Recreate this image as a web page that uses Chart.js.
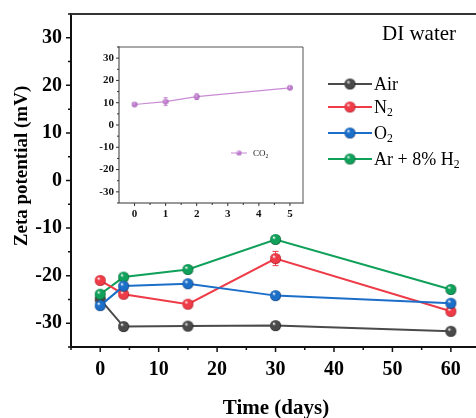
<!DOCTYPE html>
<html>
<head>
<meta charset="utf-8">
<script src="https://cdn.jsdelivr.net/npm/chart.js@4"></script>
<style>
  html, body { margin: 0; padding: 0; background: #fff; }
  #wrap { position: relative; width: 476px; height: 418px; overflow: hidden; }
  canvas { position: absolute; }
</style>
</head>
<body>
<div id="wrap">
  <canvas id="main" width="476" height="418" style="left:0;top:0;width:476px;height:418px"></canvas>
  <canvas id="inset" width="230" height="190" style="left:80px;top:40px;width:230px;height:190px"></canvas>
</div>
<script>
// ---------------- DATA ----------------
const days = [0, 4, 15, 30, 60];
const airVals  = [-25.0, -30.7, -30.6, -30.5, -31.7];
const n2Vals   = [-21.0, -23.9, -26.0, -16.4, -27.5];
const o2Vals   = [-26.3, -22.2, -21.7, -24.2, -25.8];
const arH2Vals = [-23.9, -20.3, -18.7, -12.4, -22.9];
const n2Err    = [0.4, 0.4, 0.4, 1.5, 0.4];

const insetDays = [0, 1, 2, 5];
const co2Vals   = [9.2, 10.5, 12.7, 16.7];
const co2Err    = [0.6, 1.8, 1.3, 0.6];

const mainXTicks = [0, 10, 20, 30, 40, 50, 60];
const mainYTicks = [-30, -20, -10, 0, 10, 20, 30];
const insetXTicks = [0, 1, 2, 3, 4, 5];
const insetYTicks = [-30, -20, -10, 0, 10, 20, 30];

const SERIF = '"Liberation Serif", "Times New Roman", serif';

// ---------------- helpers ----------------
function sphere(color, dark, r) {
  const s = Math.ceil(2 * r + 2);
  const c = document.createElement('canvas');
  c.width = s; c.height = s;
  const ctx = c.getContext('2d');
  const cx = s / 2, cy = s / 2;
  const g = ctx.createRadialGradient(cx - r * 0.35, cy - r * 0.4, r * 0.05, cx, cy, r);
  g.addColorStop(0, '#ffffff');
  g.addColorStop(0.3, color);
  g.addColorStop(0.85, color);
  g.addColorStop(1, dark);
  ctx.fillStyle = g;
  ctx.beginPath(); ctx.arc(cx, cy, r, 0, Math.PI * 2); ctx.fill();
  return c;
}
function pts(xs, ys) { return xs.map((x, i) => ({ x: x, y: ys[i] })); }

function drawRich(ctx, parts, x, y, size, weight) {
  let cx = x;
  for (const p of parts) {
    const fs = p.sub ? size * 0.65 : size;
    ctx.font = (weight || 'normal') + ' ' + fs + 'px ' + SERIF;
    ctx.fillText(p.t, cx, p.sub ? y + size * 0.28 : y);
    cx += ctx.measureText(p.t).width;
  }
}
function noPad(s) { s.paddingTop = 0; s.paddingBottom = 0; s.paddingLeft = 0; s.paddingRight = 0; }

const series = [
  { label: [{ t: 'Air' }], vals: airVals, color: '#4a4a4a', dark: '#111' },
  { label: [{ t: 'N' }, { t: '2', sub: true }], vals: n2Vals, color: '#ee3b47', dark: '#9a101a', err: n2Err },
  { label: [{ t: 'O' }, { t: '2', sub: true }], vals: o2Vals, color: '#1c6fc9', dark: '#0a2f66' },
  { label: [{ t: 'Ar + 8% H' }, { t: '2', sub: true }], vals: arH2Vals, color: '#0fa05a', dark: '#06502b' }
];

// axis frame / ticks plugin factory
function framePlugin(cfg) {
  return {
    id: 'frame_' + cfg.name,
    beforeDatasetsDraw(chart) {
      const ctx = chart.ctx;
      chart.data.datasets.forEach((ds, di) => {
        if (!ds.errs) return;
        const meta = chart.getDatasetMeta(di);
        ctx.save();
        ctx.strokeStyle = ds.borderColor;
        ctx.lineWidth = 1;
        meta.data.forEach((el, i) => {
          const v = ds.data[i].y, e = ds.errs[i];
          const y1 = chart.scales.y.getPixelForValue(v + e);
          const y2 = chart.scales.y.getPixelForValue(v - e);
          const x = el.x;
          ctx.beginPath();
          ctx.moveTo(x, y1); ctx.lineTo(x, y2);
          ctx.moveTo(x - cfg.cap, y1); ctx.lineTo(x + cfg.cap, y1);
          ctx.moveTo(x - cfg.cap, y2); ctx.lineTo(x + cfg.cap, y2);
          ctx.stroke();
        });
        ctx.restore();
      });
    },
    afterDraw(chart) {
      const ctx = chart.ctx;
      const a = chart.chartArea;
      const xs = chart.scales.x, ys = chart.scales.y;
      ctx.save();
      ctx.strokeStyle = cfg.axisColor;
      ctx.lineWidth = cfg.axisWidth;
      ctx.lineCap = 'square';
      ctx.beginPath();
      ctx.moveTo(a.left, a.top); ctx.lineTo(a.left, a.bottom); ctx.lineTo(a.right, a.bottom);
      ctx.stroke();
      ctx.strokeStyle = cfg.topColor;
      ctx.beginPath();
      ctx.moveTo(a.left, a.top); ctx.lineTo(a.right, a.top);
      if (cfg.rightBorder) ctx.lineTo(a.right, a.bottom);
      ctx.stroke();
      ctx.strokeStyle = cfg.axisColor;
      ctx.lineWidth = cfg.tickWidth;
      ctx.lineCap = 'butt';
      ctx.beginPath();
      for (const v of cfg.yMajor) { const p = ys.getPixelForValue(v); ctx.moveTo(a.left, p); ctx.lineTo(a.left - cfg.major, p); }
      for (const v of cfg.yMinor) { const p = ys.getPixelForValue(v); ctx.moveTo(a.left, p); ctx.lineTo(a.left - cfg.minor, p); }
      for (const v of cfg.xMajor) { const p = xs.getPixelForValue(v); ctx.moveTo(p, a.bottom); ctx.lineTo(p, a.bottom + cfg.major); }
      for (const v of cfg.xMinor) { const p = xs.getPixelForValue(v); ctx.moveTo(p, a.bottom); ctx.lineTo(p, a.bottom + cfg.minor); }
      ctx.stroke();
      ctx.restore();
      if (cfg.extra) cfg.extra(chart);
    }
  };
}

// ---------------- MAIN CHART ----------------
const mainPlugin = framePlugin({
  name: 'main', axisColor: '#111', topColor: '#333', axisWidth: 2, tickWidth: 1.5,
  major: 5, minor: 3, cap: 3,
  yMajor: mainYTicks, yMinor: [-35, -25, -15, -5, 5, 15, 25, 35],
  xMajor: mainXTicks, xMinor: [-5, 5, 15, 25, 35, 45, 55],
  extra(chart) {
    const ctx = chart.ctx;
    ctx.save();
    ctx.fillStyle = '#000';
    ctx.save();
    ctx.translate(27, 166);
    ctx.rotate(-Math.PI / 2);
    ctx.font = 'bold 19px ' + SERIF;
    ctx.textAlign = 'center';
    ctx.textBaseline = 'alphabetic';
    ctx.fillText('Zeta potential (mV)', 0, 0);
    ctx.restore();
    ctx.font = 'bold 21px ' + SERIF;
    ctx.textAlign = 'center';
    ctx.textBaseline = 'alphabetic';
    ctx.fillText('Time (days)', 276, 414);
    ctx.font = '21px ' + SERIF;
    ctx.textAlign = 'left';
    ctx.fillText('DI water', 382, 39.5);
    const ly = [84, 107, 133, 159];
    series.forEach((s, i) => {
      ctx.strokeStyle = s.color;
      ctx.lineWidth = 2;
      ctx.beginPath(); ctx.moveTo(328, ly[i]); ctx.lineTo(372, ly[i]); ctx.stroke();
      const img = sphere(s.color, s.dark, 5.5);
      ctx.drawImage(img, 350 - img.width / 2, ly[i] - img.height / 2);
      ctx.fillStyle = '#000';
      ctx.textBaseline = 'middle';
      drawRich(ctx, s.label, 374, ly[i] + 1, 18);
    });
    ctx.restore();
  }
});

const mainDatasets = series.map((s, i) => ({
  label: s.label.map(p => p.t).join(''),
  data: pts(days, s.vals),
  borderColor: s.color,
  backgroundColor: s.color,
  borderWidth: 2,
  pointStyle: sphere(s.color, s.dark, 5.5),
  pointRadius: 5.5,
  errs: s.err,
  order: [4, 2, 1, 3][i],
  tension: 0
}));

new Chart(document.getElementById('main'), {
  type: 'line',
  data: { datasets: mainDatasets },
  options: {
    responsive: false,
    animation: false,
    devicePixelRatio: 1,
    layout: { padding: { top: 14, right: 0, left: 0, bottom: 0 }, autoPadding: false },
    plugins: { legend: { display: false }, tooltip: { enabled: false } },
    scales: {
      x: {
        type: 'linear', min: -5, max: 64.3,
        grid: { display: false, drawTicks: false }, border: { display: false },
        afterBuildTicks(s) { s.ticks = mainXTicks.map(v => ({ value: v })); },
        afterFit(s) { s.height = 71; noPad(s); },
        ticks: { padding: 11, color: '#000', font: { family: SERIF, size: 20, weight: 'bold' }, maxRotation: 0, autoSkip: false }
      },
      y: {
        type: 'linear', min: -35, max: 35,
        grid: { display: false, drawTicks: false }, border: { display: false },
        afterBuildTicks(s) { s.ticks = mainYTicks.map(v => ({ value: v })); },
        afterFit(s) { s.width = 71; noPad(s); },
        ticks: { padding: 9, color: '#000', font: { family: SERIF, size: 20, weight: 'bold' }, autoSkip: false }
      }
    }
  },
  plugins: [mainPlugin]
});

// ---------------- INSET CHART ----------------
const insetColor = '#c98bd4';
const insetPlugin = framePlugin({
  name: 'inset', axisColor: '#333', topColor: '#555', axisWidth: 1, tickWidth: 1,
  major: 3, minor: 2, cap: 2, rightBorder: true,
  yMajor: insetYTicks, yMinor: [-35, -25, -15, -5, 5, 15, 25, 35],
  xMajor: insetXTicks, xMinor: [0.5, 1.5, 2.5, 3.5, 4.5],
  extra(chart) {
    const ctx = chart.ctx;
    ctx.save();
    ctx.strokeStyle = insetColor;
    ctx.lineWidth = 1;
    ctx.beginPath(); ctx.moveTo(151, 113); ctx.lineTo(167, 113); ctx.stroke();
    const img = sphere('#c07ad0', '#7a3a88', 2.5);
    ctx.drawImage(img, 159 - img.width / 2, 113 - img.height / 2);
    ctx.fillStyle = '#222';
    ctx.textBaseline = 'middle';
    ctx.textAlign = 'left';
    drawRich(ctx, [{ t: 'CO' }, { t: '2', sub: true }], 173, 113.5, 9);
    ctx.restore();
  }
});

new Chart(document.getElementById('inset'), {
  type: 'line',
  data: {
    datasets: [{
      label: 'CO2',
      data: pts(insetDays, co2Vals),
      borderColor: insetColor,
      backgroundColor: insetColor,
      borderWidth: 1.2,
      pointStyle: sphere('#c07ad0', '#7a3a88', 2.8),
      pointRadius: 2.8,
      errs: co2Err,
      tension: 0
    }]
  },
  options: {
    responsive: false,
    animation: false,
    devicePixelRatio: 1,
    layout: { padding: { top: 7, right: 7, left: 0, bottom: 0 }, autoPadding: false },
    plugins: { legend: { display: false }, tooltip: { enabled: false } },
    scales: {
      x: {
        type: 'linear', min: -0.5, max: 5.42,
        grid: { display: false, drawTicks: false }, border: { display: false },
        afterBuildTicks(s) { s.ticks = insetXTicks.map(v => ({ value: v })); },
        afterFit(s) { s.height = 27; noPad(s); },
        ticks: { padding: 5, color: '#111', font: { family: SERIF, size: 11, weight: 'bold' }, maxRotation: 0, autoSkip: false }
      },
      y: {
        type: 'linear', min: -35, max: 35,
        grid: { display: false, drawTicks: false }, border: { display: false },
        afterBuildTicks(s) { s.ticks = insetYTicks.map(v => ({ value: v })); },
        afterFit(s) { s.width = 39; noPad(s); },
        ticks: { padding: 5, color: '#111', font: { family: SERIF, size: 11, weight: 'bold' }, autoSkip: false }
      }
    }
  },
  plugins: [insetPlugin]
});
</script>
</body>
</html>
